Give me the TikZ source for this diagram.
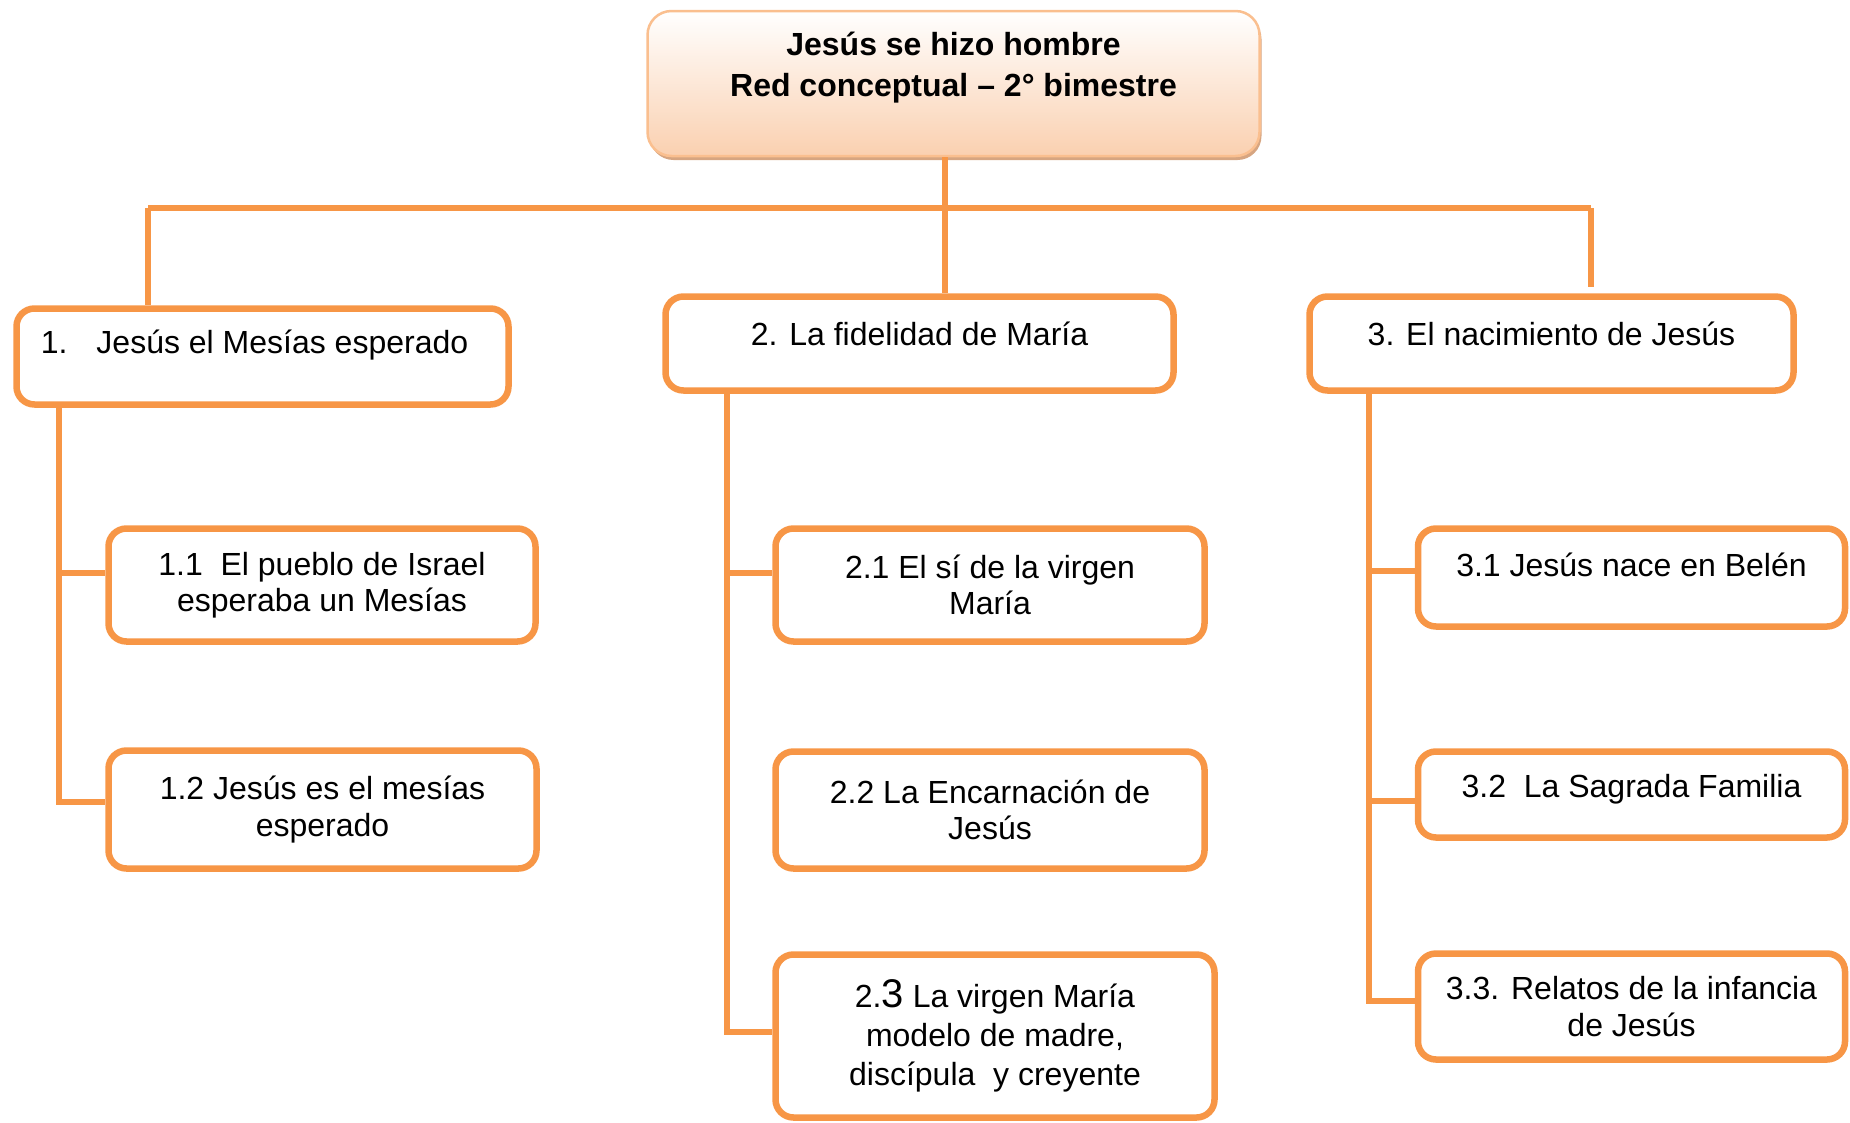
\documentclass[tikz,border=0pt]{standalone}
\usepackage{fontspec}
\setmainfont{Liberation Sans}
\usetikzlibrary{positioning}
\usetikzlibrary{shadows}

\definecolor{netorange}{HTML}{F79646}
\definecolor{titleedge}{HTML}{FABF8F}
\definecolor{titlepeach}{HTML}{FAD0B0}
\definecolor{titleshade}{HTML}{D6A581}

\tikzset{
	topic/.style={draw=netorange, line width=6.5pt, rounded corners=18pt, fill=white,
		align=center, font=\fontsize{32}{36.5}\selectfont},
	lifted/.style={text height=29pt, text depth=#1},
	titlebox/.style={draw=titleedge, line width=2.5pt, rounded corners=24pt,
		top color=white, bottom color=titlepeach,
		drop shadow={shadow xshift=2pt, shadow yshift=-4pt, fill=titleshade, opacity=1}},
	link/.style={draw=netorange, line width=5.5pt},
}

\begin{document}
\begin{tikzpicture}[x=1pt, y=-1pt]
		\useasboundingbox (0,0) rectangle (1850,1122);
		
		% title
		\node[titlebox, minimum width=612pt, minimum height=145pt] (titulo) at (953.5,83.5) {};
		\node[font=\bfseries\fontsize{32}{41}\selectfont, align=center] (titulotxt) at ([yshift=16pt]titulo.center) {Jesús se hizo hombre\\Red conceptual – 2° bimestre};
		
		% main topics
		\node[topic, lifted=35pt, minimum width=492pt, minimum height=96pt] (mesias) at (262.5,356.5) {1.\hspace{29pt}Jesús el Mesías esperado\hspace{16pt}};
		\node[topic, lifted=25pt, minimum width=508pt, minimum height=94pt] (fidelidad) at (919.5,343.5) {2. La fidelidad de María};
		\node[topic, lifted=25pt, minimum width=484pt, minimum height=94pt] (nacimiento) at (1551.5,343.5) {3. El nacimiento de Jesús};
		
		% subtopics
		\node[topic, minimum width=427pt, minimum height=113pt] (israel) at (322,585) {1.1\ \ El pueblo de Israel\\esperaba un Mesías};
		\node[topic, minimum width=428pt, minimum height=118pt] (esmesias) at (322.5,809.5) {1.2 Jesús es el mesías\\esperado};
		
		\node[topic, minimum width=429pt, minimum height=113pt] (si) at (990,585) {2.1 El sí de la virgen\\María};
		\node[topic, minimum width=429pt, minimum height=117pt] (encarnacion) at (990,810) {2.2 La Encarnación de\\Jesús};
		\node[topic, font=\fontsize{32}{39}\selectfont, minimum width=439pt, minimum height=163pt] (modelo) at (995,1036) {2.{\fontsize{40}{39}\selectfont 3} La virgen María\\modelo de madre,\\discípula\ \ y creyente};
		
		\node[topic, lifted=31pt, minimum width=427pt, minimum height=98pt] (belen) at (1631.5,577.5) {3.1 Jesús nace en Belén};
		\node[topic, lifted=23pt, minimum width=427pt, minimum height=86pt] (familia) at (1631.5,794.5) {3.2\ \ La Sagrada Familia};
		\node[topic, minimum width=427pt, minimum height=106pt] (relatos) at (1631.5,1006.5) {3.3. Relatos de la infancia\\de Jesús};
		
		% connectors
		\coordinate (hub) at (945,208);
		\coordinate (izq) at (148,208);
		\coordinate (der) at (1591,208);
		\coordinate (derfin) at (1591,287);
		\coordinate (b11) at (59,573);
		\coordinate (b12) at (59,802);
		\coordinate (b21) at (727,573);
		\coordinate (b23) at (727,1032);
		\coordinate (b31) at (1369,571);
		\coordinate (b32) at (1369,801);
		\coordinate (b33) at (1369,1001);
		
		\draw[link] (titulo.south -| hub) -- (fidelidad.north -| hub);
		\draw[link] (izq) -- (der);
		\draw[link] (izq) -- (mesias.north -| izq);
		\draw[link] (der) -- (derfin);
		
		\draw[link] (mesias.south -| b12) -- (b12) -- (b12 -| esmesias.west);
		\draw[link] (b11) -- (b11 -| israel.west);
		
		\draw[link] (fidelidad.south -| b23) -- (b23) -- (b23 -| modelo.west);
		\draw[link] (b21) -- (b21 -| si.west);
		
		\draw[link] (nacimiento.south -| b33) -- (b33) -- (b33 -| relatos.west);
		\draw[link] (b31) -- (b31 -| belen.west);
		\draw[link] (b32) -- (b32 -| familia.west);
\end{tikzpicture}
\end{document}
